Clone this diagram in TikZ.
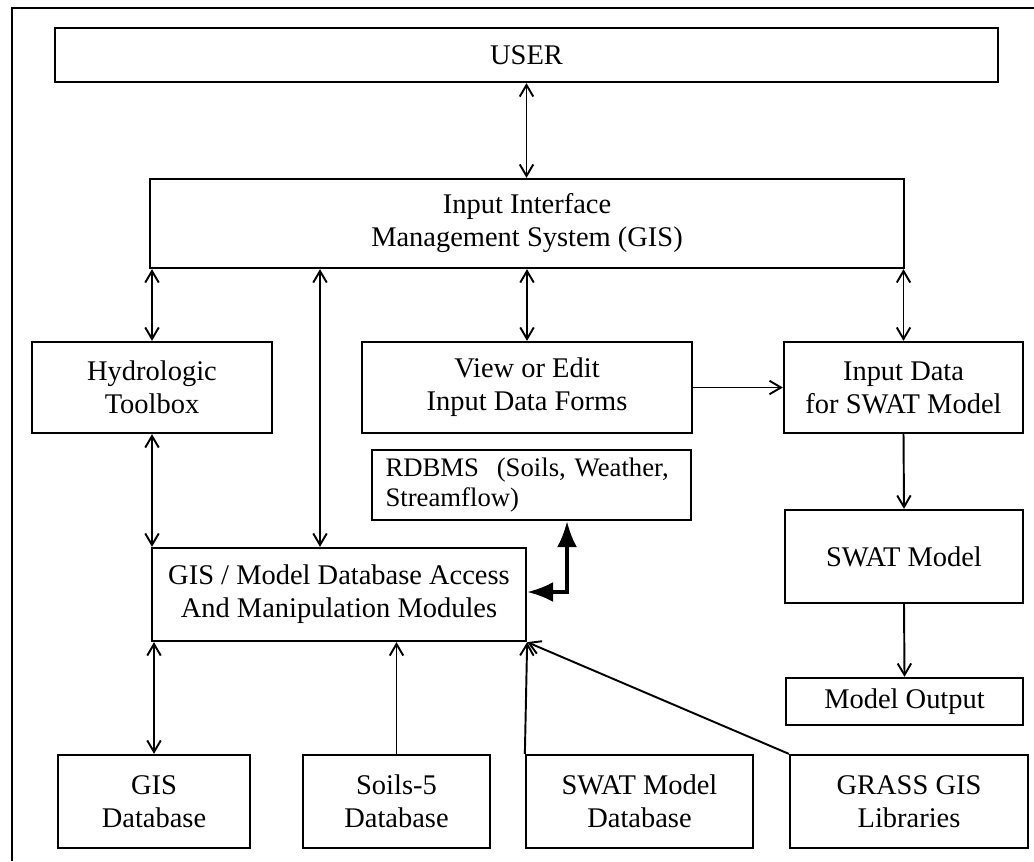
\documentclass[tikz,border=0pt]{standalone}
\usepackage{fontspec}
\setmainfont{Liberation Serif}
\usetikzlibrary{arrows.meta}

\begin{document}
\begin{tikzpicture}[scale=1.0,
  box/.style={draw,line width=1.3pt,align=center,inner sep=2pt,font=\fontsize{16.2}{18.8}\selectfont},
  link/.style={line width=1.1pt,-{Straight Barb[length=2.3mm,width=2.7mm]}},
  twoway/.style={line width=1.1pt,{Straight Barb[length=2.3mm,width=2.7mm]}-{Straight Barb[length=2.3mm,width=2.7mm]}},
  heavy/.style={line width=1.9pt,{Latex[length=5.2mm,width=4mm]}-{Latex[length=5.2mm,width=4mm]}}]
\useasboundingbox (0,0) rectangle (20.68,17.22);
\draw[line width=1.3pt] (0.24,0) -- (0.24,17.06) -- (20.68,17.06);

\node[box,minimum width=18.86cm,minimum height=1.08cm] (user) at (10.53,16.12) {USER};
\node[box,minimum width=15.08cm,minimum height=1.78cm] (iims) at (10.54,12.75) {Input Interface\\Management System (GIS)};

\node[box,minimum width=4.8cm,minimum height=1.82cm] (hydro) at (3.04,9.47) {Hydrologic\\Toolbox};
\node[box,minimum width=6.6cm,minimum height=1.82cm] (vedit) at (10.54,9.47) {View or Edit\\Input Data Forms};
\node[box,minimum width=4.78cm,minimum height=1.82cm] (indata) at (18.07,9.47) {Input Data\\for SWAT Model};
\node[box,align=left,text width=5.84cm,inner xsep=0.27cm,minimum height=1.4cm,font=\fontsize{15.2}{16.8}\selectfont] (rdbms) at (10.63,7.52) {RDBMS\ \ (Soils, Weather,\\Streamflow)};

\node[box,minimum width=7.48cm,minimum height=1.86cm] (gismod) at (6.78,5.33) {GIS / Model Database Access\\And Manipulation Modules};
\node[box,minimum width=4.76cm,minimum height=1.86cm] (swat) at (18.08,6.09) {SWAT Model};
\node[box,minimum width=4.74cm,minimum height=0.94cm] (output) at (18.09,3.19) {Model Output};

\node[box,minimum width=3.84cm,minimum height=1.86cm] (gisdb) at (3.08,1.19) {GIS\\Database};
\node[box,minimum width=3.74cm,minimum height=1.86cm] (soils) at (7.93,1.19) {Soils-5\\Database};
\node[box,minimum width=4.54cm,minimum height=1.86cm] (swatdb) at (12.79,1.19) {SWAT Model\\Database};
\node[box,minimum width=4.76cm,minimum height=1.86cm] (grass) at (18.18,1.19) {GRASS GIS\\Libraries};

\coordinate (tap) at (6.4,0);
\coordinate (knee) at (11.34,5.38);

\draw[twoway] (user.south) -- (iims.north -| user.south);
\draw[twoway] (iims.south -| hydro.north) -- (hydro.north);
\draw[twoway] (iims.south -| tap) -- (gismod.north -| tap);
\draw[twoway] (iims.south -| vedit.north) -- (vedit.north);
\draw[twoway] (iims.south -| indata.north) -- (indata.north);
\draw[link] (vedit.east) -- (indata.west);
\draw[link] (indata.south) -- (swat.north);
\draw[link] (swat.south) -- (output.north);
\draw[twoway] (hydro.south) -- (gismod.north -| hydro.south);
\draw[twoway] (gismod.south -| gisdb.north) -- (gisdb.north);
\draw[link] (soils.north) -- (gismod.south -| soils.north);
\draw[link] (swatdb.north west) -- (gismod.south east);
\draw[link] (grass.north west) -- (gismod.south east);
\draw[heavy] (rdbms.south -| knee) -- (knee) -- (knee -| gismod.east);
\end{tikzpicture}
\end{document}
